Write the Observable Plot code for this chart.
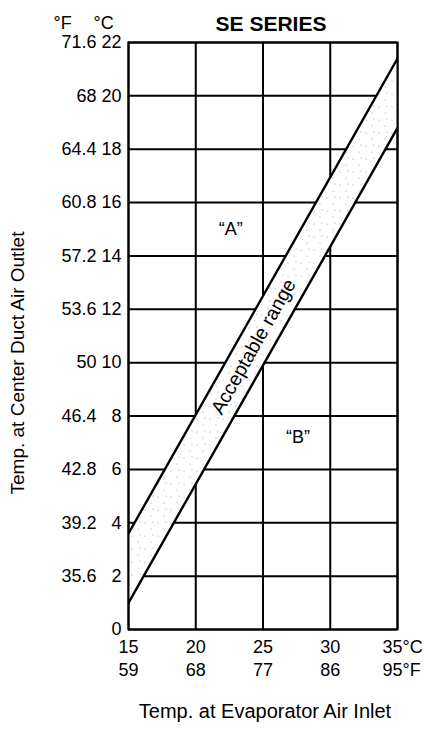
<!DOCTYPE html>
<html><head><meta charset="utf-8">
<script src="https://cdn.jsdelivr.net/npm/d3@7"></script>
<script src="https://cdn.jsdelivr.net/npm/@observablehq/plot@0.6"></script>
<style>body{margin:0;background:#fff}</style>
</head><body><div id="chart"></div>
<script>
// Evaporator air inlet temperature ticks (°C and °F)
const inletC = [15, 20, 25, 30, 35];
const inletF = [59, 68, 77, 86, 95];
// Center duct air outlet temperature ticks (°C and °F)
const outletC = [0, 2, 4, 6, 8, 10, 12, 14, 16, 18, 20, 22];
const outletF = ["", "35.6", "39.2", "42.8", "46.4", "50", "53.6", "57.2", "60.8", "64.4", "68", "71.6"];
// Acceptable range boundary lines
const boundInlet = [15, 35];
const upperOutlet = [3.6, 21.4];
const lowerOutlet = [1.0, 18.8];
// Zone labels
const zoneText = ["“A”", "“B”"];
const zoneInlet = [22.6, 27.6];
const zoneOutlet = [15.0, 7.2];
const rangeText = ["Acceptable range"];
const rangeInlet = [24.3];
const rangeOutlet = [10.6];

const band = boundInlet.map((x, i) => ({x, lo: lowerOutlet[i], hi: upperOutlet[i]}));
const upper = boundInlet.map((x, i) => ({x, y: upperOutlet[i]}));
const lower = boundInlet.map((x, i) => ({x, y: lowerOutlet[i]}));
const zones = zoneText.map((t, i) => ({t, x: zoneInlet[i], y: zoneOutlet[i]}));
const range = rangeText.map((t, i) => ({t, x: rangeInlet[i], y: rangeOutlet[i]}));
const fs = "\u2007";

const chart = Plot.plot({
  width: 448,
  height: 736,
  marginLeft: 128,
  marginRight: 51,
  marginTop: 42,
  marginBottom: 107,
  style: {fontFamily: "'Liberation Sans', Arial, sans-serif", fontSize: "18px", color: "black", background: "white"},
  x: {domain: [15, 35], axis: null},
  y: {domain: [0, 22], axis: null},
  marks: [
    Plot.gridY(outletC, {stroke: "black", strokeOpacity: 1, strokeWidth: 2}),
    Plot.gridX(inletC, {stroke: "black", strokeOpacity: 1, strokeWidth: 2}),
    Plot.areaY(band, {x: "x", y1: "lo", y2: "hi", fill: "white", clip: true}),
    Plot.areaY(band, {x: "x", y1: "lo", y2: "hi", fill: "url(#stipple)", clip: true}),
    Plot.frame({stroke: "black", strokeWidth: 2}),
    Plot.line(upper, {x: "x", y: "y", stroke: "black", strokeWidth: 2.4, clip: true}),
    Plot.line(lower, {x: "x", y: "y", stroke: "black", strokeWidth: 2.4, clip: true}),
    Plot.axisY(outletC, {
      tickSize: 0, tickPadding: 7, fontSize: 18,
      tickFormat: (d) => d === 0 ? "0" : outletF[outletC.indexOf(d)] + " " + (d < 10 ? fs : "") + d,
      label: null
    }),
    Plot.axisX(inletC.slice(0, -1), {
      tickSize: 0, tickPadding: 8, fontSize: 18, lineHeight: 1.25,
      tickFormat: d => d + "\n" + inletF[inletC.indexOf(d)],
      label: null
    }),
    Plot.axisX(inletC.slice(-1), {
      tickSize: 0, tickPadding: 8, fontSize: 18, lineHeight: 1.25, textAnchor: "start", dx: -15,
      tickFormat: d => d + "°C\n" + inletF[inletC.indexOf(d)] + "°F",
      label: null
    }),
    Plot.text(zones, {x: "x", y: "y", text: "t", fontSize: 18}),
    Plot.text(range, {x: "x", y: "y", text: "t", fontSize: 19.5, rotate: -60.5}),
    Plot.text(["SE SERIES"], {frameAnchor: "top", dx: 8, dy: -26, fontSize: 21, fontWeight: "bold"}),
    Plot.text(["°F"], {frameAnchor: "top-left", textAnchor: "start", dx: -75, dy: -26, fontSize: 18}),
    Plot.text(["°C"], {frameAnchor: "top-left", textAnchor: "start", dx: -35, dy: -26, fontSize: 18}),
    Plot.text(["Temp. at Evaporator Air Inlet"], {frameAnchor: "bottom", textAnchor: "middle", dx: 2, dy: 88, fontSize: 20}),
    Plot.text(["Temp. at Center Duct Air Outlet"], {frameAnchor: "left", textAnchor: "middle", dx: -111, dy: 27, rotate: -90, fontSize: 19})
  ]
});

const svg = d3.select(chart);
const defs = svg.insert("defs", ":first-child");
const pat = defs.append("pattern").attr("id", "stipple").attr("patternUnits", "userSpaceOnUse")
  .attr("width", 13).attr("height", 13);
[[2,3],[8,9],[10,2]].forEach(([cx, cy]) =>
  pat.append("circle").attr("cx", cx).attr("cy", cy).attr("r", 0.6).attr("fill", "#999"));
document.getElementById("chart").append(chart);
</script>
</body></html>
